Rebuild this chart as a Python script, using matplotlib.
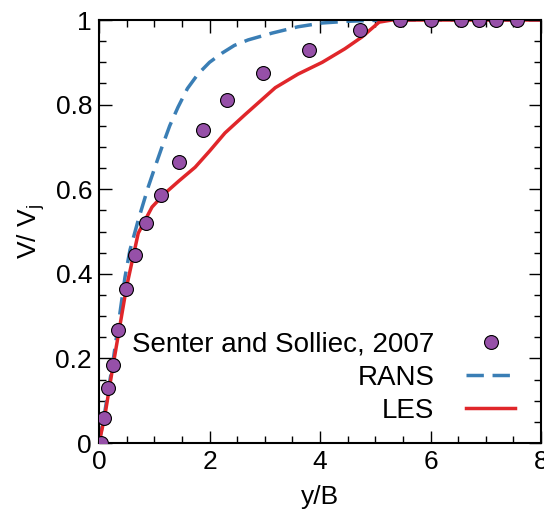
import matplotlib
matplotlib.use('Agg')
import matplotlib.pyplot as plt
from matplotlib.ticker import MultipleLocator

plt.rcParams['font.family'] = ['Liberation Sans', 'DejaVu Sans']

# ------------------- Data -------------------
exp_x = [0.04, 0.09, 0.16, 0.25, 0.34, 0.49, 0.65, 0.85, 1.12, 1.45, 1.88,
         2.32, 2.97, 3.80, 4.72, 5.45, 6.0, 6.55, 6.88, 7.18, 7.57]
exp_y = [0.0, 0.059, 0.13, 0.184, 0.267, 0.364, 0.444, 0.52, 0.586, 0.664,
         0.74, 0.811, 0.875, 0.929, 0.976, 1.0, 1.0, 1.0, 1.0, 1.0, 1.0]

rans_x = [0.0, 0.1, 0.25, 0.36, 0.47, 0.56, 0.71, 0.89, 1.02, 1.14, 1.28,
          1.43, 1.6, 1.79, 2.0, 2.23, 2.45, 2.70, 3.13, 3.6, 4.04, 4.5,
          4.94, 5.5, 8.0]
rans_y = [0.0, 0.07, 0.19, 0.29, 0.392, 0.456, 0.527, 0.605, 0.655, 0.70,
          0.75, 0.794, 0.838, 0.872, 0.90, 0.922, 0.94, 0.953, 0.969, 0.984,
          0.993, 0.997, 0.999, 1.0, 1.0]

les_x = [0.0, 0.1, 0.25, 0.5, 0.71, 0.96, 1.19, 1.45, 1.74, 2.0, 2.28, 2.64,
         3.19, 3.6, 4.04, 4.45, 4.76, 5.07, 5.3, 8.0]
les_y = [0.0, 0.06, 0.18, 0.37, 0.496, 0.558, 0.59, 0.62, 0.652, 0.69, 0.733,
         0.776, 0.84, 0.872, 0.90, 0.932, 0.96, 0.995, 1.0, 1.0]

# ------------------- Plot -------------------
fig = plt.figure(figsize=(5.44, 5.2), dpi=100)
ax = fig.add_axes([0.182, 0.148, 0.8125, 0.8135])

ax.plot(exp_x, exp_y, 'o', color='#9650a8', markeredgecolor='black',
        markeredgewidth=0.8, markersize=10, label='Senter and Solliec, 2007',
        zorder=3)
ax.plot(rans_x, rans_y, '--', color='#3a7eb5', lw=2.5, dashes=(5, 2.5),
        label='RANS')
ax.plot(les_x, les_y, '-', color='#e0262a', lw=2.5, label='LES')

ax.set_xlim(0, 8)
ax.set_ylim(0, 1)
ax.xaxis.set_major_locator(MultipleLocator(2))
ax.xaxis.set_minor_locator(MultipleLocator(0.5))
ax.yaxis.set_major_locator(MultipleLocator(0.2))
ax.yaxis.set_minor_locator(MultipleLocator(0.05))
ax.set_yticks([0, 0.2, 0.4, 0.6, 0.8, 1])
ax.set_yticklabels(['0', '0.2', '0.4', '0.6', '0.8', '1'])
ax.tick_params(which='both', direction='in', top=True, right=True,
               labelsize=19, pad=5)
ax.tick_params(which='major', length=9, width=1)
ax.tick_params(which='minor', length=5, width=1)
for s in ax.spines.values():
    s.set_linewidth(1.5)

ax.set_xlabel('y/B', fontsize=19, labelpad=8)
ax.set_ylabel(r'V/ V$_\mathregular{j}$', fontsize=19, labelpad=6)

ax.legend(loc='lower right', bbox_to_anchor=(0.985, 0.0), frameon=False,
          markerfirst=False, fontsize=20, handlelength=1.75,
          labelspacing=0.25, handletextpad=1.15, borderaxespad=0.3)

fig.savefig('out.png', dpi=100)
